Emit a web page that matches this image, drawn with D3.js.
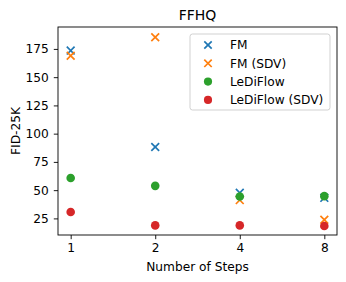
<!DOCTYPE html>
<html><head><meta charset="utf-8">
<script src="https://cdn.jsdelivr.net/npm/d3@7"></script>
<style>body{margin:0;background:#fff}svg{font-family:"DejaVu Sans",sans-serif}</style>
</head><body>
<svg id="c" width="346" height="282"></svg>
<script>
const steps = ["1","2","4","8"];
const fm = [173.5, 88.2, 47.6, 43.2];
const fmSdv = [169, 185.3, 41.2, 23.8];
const lediflow = [60.8, 53.8, 44.4, 44.7];
const lediflowSdv = [30.6, 18.8, 18.8, 18.2];
const yTicks = [25, 50, 75, 100, 125, 150, 175];
const series = [
  {name:"FM", values:fm, color:"#1f77b4", marker:"x"},
  {name:"FM (SDV)", values:fmSdv, color:"#ff7f0e", marker:"x"},
  {name:"LeDiFlow", values:lediflow, color:"#2ca02c", marker:"o"},
  {name:"LeDiFlow (SDV)", values:lediflowSdv, color:"#d62728", marker:"o"}
];
const L=58,R=337,T=27,B=235;
const FS=12.2;
const svg=d3.select("#c");
const x=d3.scaleLinear().domain([-0.15,3.15]).range([L,R]);
const y=d3.scaleLinear().domain([10.3,194.4]).range([B,T]);

const xa=svg.append("g").attr("transform",`translate(0,${B})`)
  .call(d3.axisBottom(x).tickValues([0,1,2,3]).tickFormat(i=>steps[i]).tickSize(4.2).tickPadding(4.3));
const ya=svg.append("g").attr("transform",`translate(${L},0)`)
  .call(d3.axisLeft(y).tickValues(yTicks).tickSize(4.2).tickPadding(5));
[xa,ya].forEach(a=>{a.selectAll("text").attr("font-size",FS).attr("fill","#000").attr("font-family","DejaVu Sans");a.select(".domain").remove();a.selectAll("line").attr("stroke","#000").attr("stroke-width",0.9);});
svg.append("rect").attr("x",L).attr("y",T).attr("width",R-L).attr("height",B-T).attr("fill","none").attr("stroke","#000").attr("stroke-width",0.9);

function drawMarker(g,cx,cy,s,sz){
  if(s.marker==="x"){
    const d=sz*3.9;
    g.append("path").attr("d",`M${cx-d},${cy-d}L${cx+d},${cy+d}M${cx-d},${cy+d}L${cx+d},${cy-d}`)
     .attr("stroke",s.color).attr("stroke-width",1.7).attr("fill","none");
  } else {
    g.append("circle").attr("cx",cx).attr("cy",cy).attr("r",sz*4.3).attr("fill",s.color);
  }
}
const pts=svg.append("g");
series.forEach(s=>{s.values.forEach((v,i)=>drawMarker(pts,x(i),y(v),s,1));});

// legend
const lg=svg.append("g");
lg.append("rect").attr("x",190).attr("y",34).attr("width",140).attr("height",76).attr("rx",2.5)
  .attr("fill","#fff").attr("fill-opacity",0.8).attr("stroke","#ccc").attr("stroke-width",0.9);
series.forEach((s,i)=>{
  const yy=45+i*18.3;
  drawMarker(lg,208,yy,s,0.95);
  lg.append("text").attr("x",230).attr("y",yy).attr("dy","0.36em").attr("font-size",FS).text(s.name);
});

svg.append("text").attr("x",(L+R)/2).attr("y",19.8).attr("text-anchor","middle").attr("font-size",14).text("FFHQ");
svg.append("text").attr("x",(L+R)/2).attr("y",270.5).attr("text-anchor","middle").attr("font-size",FS).text("Number of Steps");
svg.append("text").attr("transform",`translate(19.5,${(T+B)/2}) rotate(-90)`).attr("text-anchor","middle").attr("font-size",FS).text("FID-25K");
</script>
</body></html>
